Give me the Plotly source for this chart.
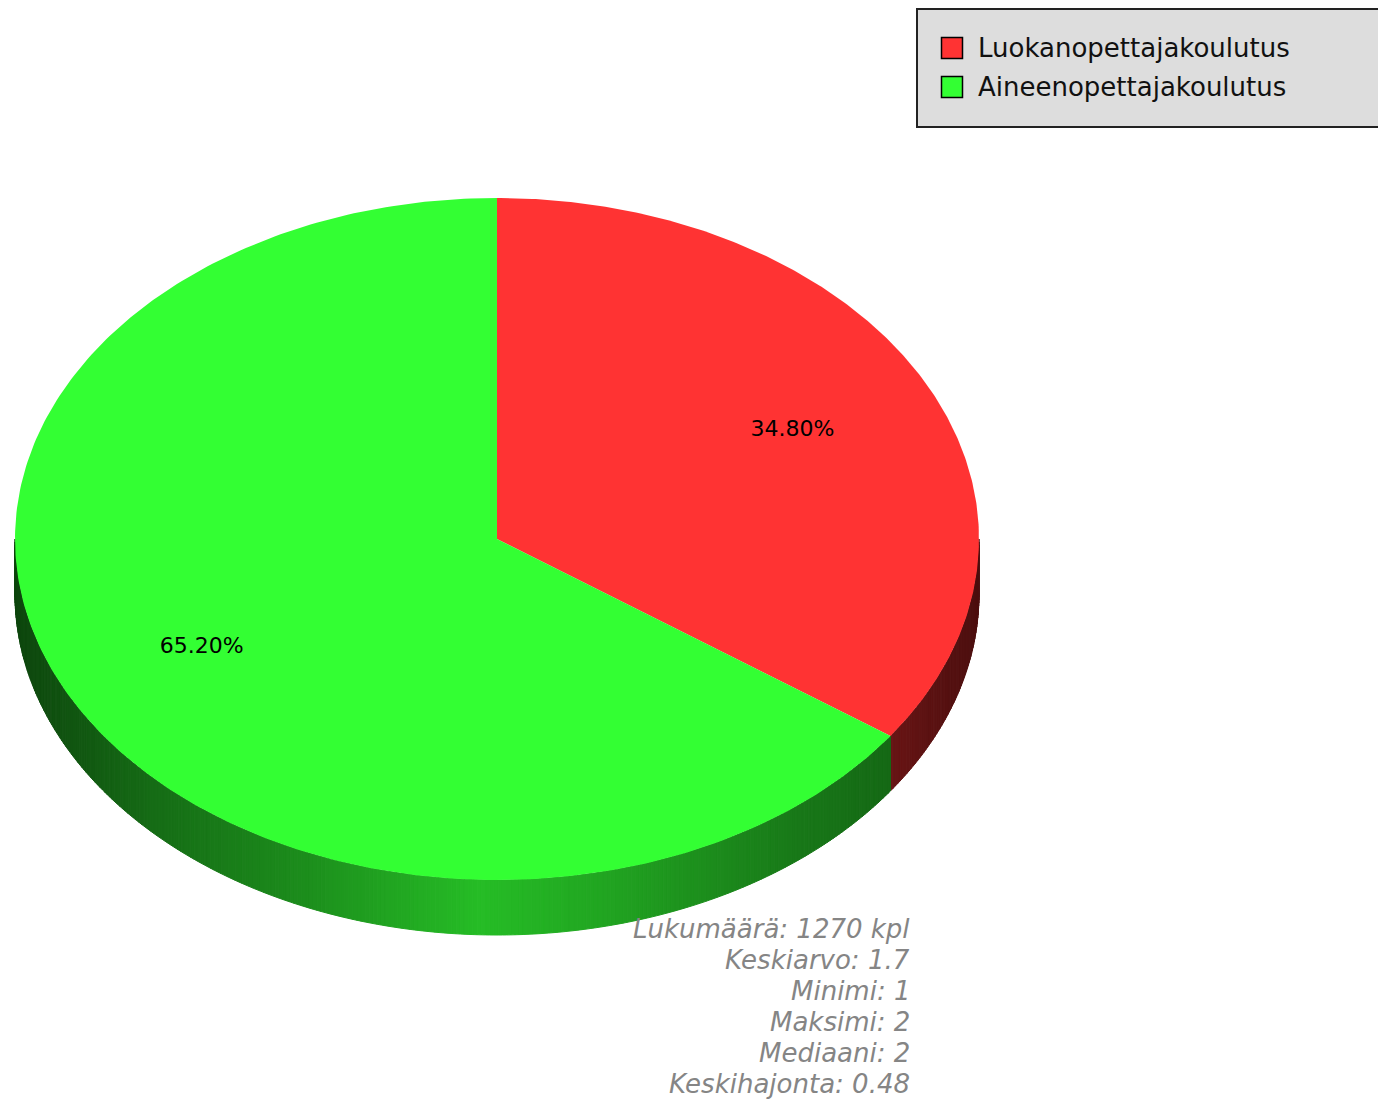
import numpy as np
import plotly.graph_objects as go

# ---- data ----
categories = ["Luokanopettajakoulutus", "Aineenopettajakoulutus"]
percents = [34.80, 65.20]
colors = ["#ff3333", "#33ff33"]
stats_lines = [
    "Lukumäärä: 1270 kpl",
    "Keskiarvo: 1.7",
    "Minimi: 1",
    "Maksimi: 2",
    "Mediaani: 2",
    "Keskihajonta: 0.48",
]

# ---- geometry / style (pixel space) ----
W, H = 1378, 1100
CX, CY = 497, 539
RX, RY = 482, 341
DEPTH = 55
START = 90.0
LABEL_K = 0.69
FONT = "DejaVu Sans"

shade_x = [14, 150, 300, 480, 600, 700, 800, 890, 978]
shade_f = [0.27, 0.42, 0.55, 0.74, 0.65, 0.56, 0.47, 0.41, 0.30]


def hex_rgb(h):
    h = h.lstrip("#")
    return tuple(int(h[i:i + 2], 16) for i in (0, 2, 4))


def ex(a):
    return CX + RX * np.cos(np.radians(a))


def ey(a):
    return CY - RY * np.sin(np.radians(a))


fig = go.Figure()
shapes = []

# slice angle ranges (clockwise from 12 o'clock)
ranges = []
cum = 0.0
for p in percents:
    a0 = START - cum * 3.6
    a1 = a0 - p * 3.6
    ranges.append((a1, a0))
    cum += p

# ---- side walls (visible lower half) ----
for (a1, a0), col in zip(ranges, colors):
    base = hex_rgb(col)
    for k in (-1, 0, 1):
        lo = max(a1, -180 + 360 * k)
        hi = min(a0, 0 + 360 * k)
        if hi <= lo:
            continue
        n = max(2, int((hi - lo) / 0.5) + 1)
        angs = np.linspace(lo, hi, n)
        for i in range(n - 1):
            t0, t1 = angs[i], angs[i + 1]
            xm = (ex(t0) + ex(t1)) / 2
            f = float(np.interp(xm, shade_x, shade_f))
            c = "rgb(%d,%d,%d)" % tuple(int(round(v * f)) for v in base)
            path = "M {:.2f} {:.2f} L {:.2f} {:.2f} L {:.2f} {:.2f} L {:.2f} {:.2f} Z".format(
                ex(t0), ey(t0), ex(t1), ey(t1), ex(t1), ey(t1) + DEPTH, ex(t0), ey(t0) + DEPTH)
            shapes.append(dict(type="path", path=path, xref="x", yref="y",
                               fillcolor=c, line=dict(color=c, width=1), layer="below"))

# ---- top faces ----
for (a1, a0), col, name in zip(ranges, colors, categories):
    angs = np.linspace(a0, a1, 300)
    xs = [CX] + list(ex(angs)) + [CX]
    ys = [CY] + list(ey(angs)) + [CY]
    fig.add_trace(go.Scatter(x=xs, y=ys, fill="toself", fillcolor=col, mode="lines",
                             line=dict(width=0, color=col), name=name, showlegend=False,
                             hoverinfo="name"))

# ---- percentage labels ----
lx, ly, lt = [], [], []
for (a1, a0), p in zip(ranges, percents):
    mid = (a0 + a1) / 2
    lx.append(CX + LABEL_K * RX * np.cos(np.radians(mid)))
    ly.append(CY - LABEL_K * RY * np.sin(np.radians(mid)))
    lt.append("%.2f%%" % p)
fig.add_trace(go.Scatter(x=lx, y=ly, text=lt, mode="text", showlegend=False,
                         textfont=dict(family=FONT, size=22, color="black"), hoverinfo="skip"))

# ---- legend (drawn) ----
shapes.append(dict(type="rect", xref="x", yref="y", x0=917, y0=9, x1=1382, y1=127,
                   fillcolor="#dddddd", line=dict(color="#222222", width=2), layer="below"))
leg_y = [48, 87]
fig.add_trace(go.Scatter(x=[952] * len(categories), y=leg_y, mode="markers", showlegend=False,
                         marker=dict(symbol="square", size=21, color=colors,
                                     line=dict(color="black", width=1.5)), hoverinfo="skip"))
annotations = []
for name, y in zip(categories, leg_y):
    annotations.append(dict(x=976, y=y, xref="x", yref="y", text=name, showarrow=False,
                            xanchor="left", yanchor="middle",
                            font=dict(family=FONT, size=26, color="#111111")))

# ---- statistics text ----
for i, line in enumerate(stats_lines):
    annotations.append(dict(x=912, y=929 + 31 * i, xref="x", yref="y", text="<i>%s</i>" % line,
                            showarrow=False, xanchor="right", yanchor="middle",
                            font=dict(family=FONT, size=26, color="#858585")))

fig.update_layout(
    width=W, height=H, autosize=False,
    margin=dict(l=0, r=0, t=0, b=0, pad=0),
    paper_bgcolor="white", plot_bgcolor="white",
    xaxis=dict(range=[0, W], visible=False, fixedrange=True),
    yaxis=dict(range=[H, 0], visible=False, fixedrange=True),
    shapes=shapes, annotations=annotations, showlegend=False,
)

fig.write_html("out.html")
